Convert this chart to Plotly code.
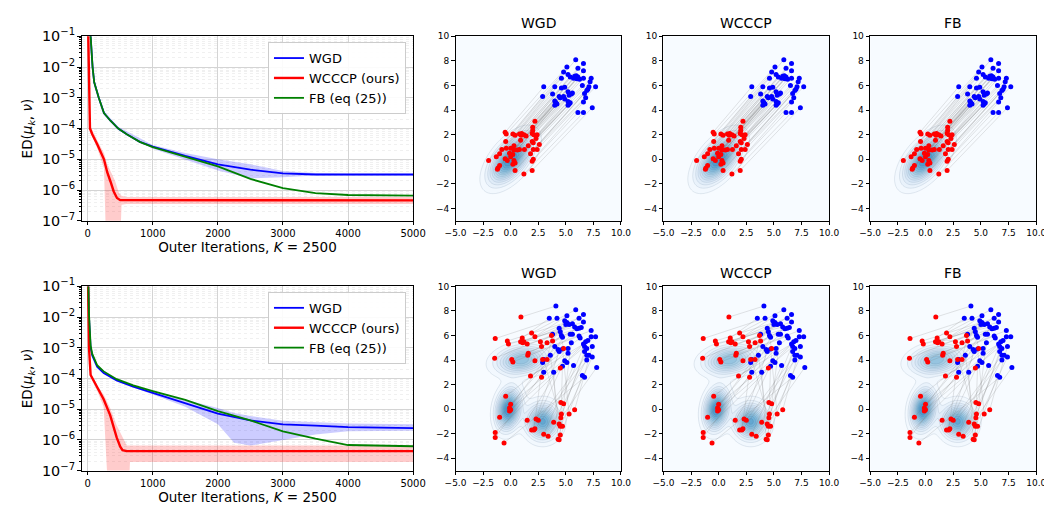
import numpy as np
import plotly.graph_objects as go
from plotly.subplots import make_subplots

W, H = 1052, 505
FONT = "DejaVu Sans"

# ---------------- convergence curves (top row) ----------------
wgd_top_it = [0, 20, 45, 75, 100, 170, 250, 350, 470, 600, 800, 1000, 1500, 2000, 2500, 3000, 3500, 4000, 5000]
wgd_top_val = [0.5, 0.2, 0.1, 1e-2, 3.2e-3, 1e-3, 3.2e-4, 1.8e-4, 1e-4, 6.5e-5, 3.7e-5, 2.6e-5, 1.3e-5, 6.9e-6, 4.6e-6, 3.5e-6, 3.2e-6, 3.2e-6, 3.2e-6]
fb_top_it = [0, 20, 45, 75, 100, 170, 250, 350, 470, 600, 800, 1000, 1500, 2000, 2500, 3000, 3500, 4000, 5000]
fb_top_val = [0.5, 0.2, 0.1, 1e-2, 3.2e-3, 1e-3, 3.2e-4, 1.8e-4, 1e-4, 6.5e-5, 3.7e-5, 2.5e-5, 1.2e-5, 5.9e-6, 2.3e-6, 1.15e-6, 7.9e-7, 6.9e-7, 6.6e-7]
wcccp_top_it = [0, 10, 20, 35, 70, 150, 250, 300, 350, 400, 450, 500, 5000]
wcccp_top_val = [1.0, 0.1, 1e-3, 1e-4, 6.5e-5, 3e-5, 1e-5, 3.8e-6, 1.9e-6, 9e-7, 5.5e-7, 4.7e-7, 4.6e-7]

wgd_top_band_it = [0, 45, 100, 250, 470, 1000, 1500, 2000, 2500, 3000, 3500, 4000, 5000]
wgd_top_band_hi = [1.0, 0.12, 3.7e-3, 3.7e-4, 1.15e-4, 2.9e-5, 1.6e-5, 1e-5, 6.9e-6, 4.2e-6, 3.6e-6, 3.4e-6, 3.4e-6]
wgd_top_band_lo = [1.0, 0.09, 2.8e-3, 2.8e-4, 8.8e-5, 2.2e-5, 1e-5, 4.3e-6, 2.4e-6, 2.6e-6, 3e-6, 3e-6, 3e-6]
wcccp_top_band_it = [0, 35, 150, 250, 300, 350, 420, 480, 520, 600, 5000]
wcccp_top_band_hi = [1.0, 1.3e-4, 4e-5, 1.6e-5, 7e-6, 4e-6, 2e-6, 8e-7, 6.5e-7, 6e-7, 6e-7]
wcccp_top_band_lo = [1.0, 8e-5, 2.2e-5, 5e-6, 1e-9, 1e-9, 1e-9, 1e-9, 3.3e-7, 3.5e-7, 3.5e-7]

# ---------------- convergence curves (bottom row) ----------------
wgd_bot_it = [0, 10, 20, 45, 70, 145, 245, 445, 700, 1000, 1500, 2000, 2500, 3000, 3500, 4000, 5000]
wgd_bot_val = [1.0, 0.1, 1e-2, 1e-3, 5.6e-4, 2.4e-4, 1.5e-4, 8.7e-5, 5.4e-5, 3.4e-5, 1.6e-5, 7.2e-6, 4.3e-6, 3.2e-6, 2.9e-6, 2.6e-6, 2.4e-6]
fb_bot_it = [0, 10, 20, 45, 70, 145, 245, 445, 700, 1000, 1500, 2000, 2500, 3000, 3500, 4000, 5000]
fb_bot_val = [1.0, 0.1, 1.2e-2, 1.2e-3, 6.3e-4, 2.7e-4, 1.7e-4, 9.5e-5, 6e-5, 3.9e-5, 2e-5, 8.6e-6, 4.3e-6, 1.9e-6, 1.1e-6, 6.8e-7, 6.2e-7]
wcccp_bot_it = [0, 10, 20, 45, 145, 245, 345, 445, 500, 535, 600, 5000]
wcccp_bot_val = [1.0, 0.1, 1e-3, 1.3e-4, 5e-5, 2.1e-5, 6.4e-6, 1.2e-6, 6e-7, 4.6e-7, 4.3e-7, 4.3e-7]

wgd_bot_band_it = [0, 45, 145, 445, 1000, 1500, 2000, 2250, 2500, 3000, 3500, 4000, 5000]
wgd_bot_band_hi = [1.0, 1.1e-3, 2.6e-4, 9.5e-5, 3.8e-5, 2e-5, 1.1e-5, 7.5e-6, 6e-6, 4.2e-6, 3.7e-6, 3.4e-6, 3.2e-6]
wgd_bot_band_lo = [1.0, 9e-4, 2.2e-4, 8e-5, 3e-5, 1.2e-5, 3.2e-6, 8e-7, 6.5e-7, 1e-6, 1.5e-6, 1.9e-6, 2e-6]
wcccp_bot_band_it = [0, 20, 45, 145, 245, 300, 345, 445, 600, 650, 5000]
wcccp_bot_band_hi = [1.0, 1.2e-3, 1.5e-4, 6e-5, 3e-5, 1.6e-5, 1.1e-5, 3e-6, 6.5e-7, 6.5e-7, 6.5e-7]
wcccp_bot_band_lo = [1.0, 8e-4, 1.1e-4, 4e-5, 1.2e-5, 1e-9, 1e-9, 1e-9, 1e-9, 1.9e-7, 1.9e-7]

# ---------------- particles (top row) ----------------
top_blue_x = [5.9, 6.6, 5.1, 6.1, 4.8, 5.2, 4.6, 5.4, 5.8, 5.95, 6.1, 5.7, 6.1, 6.25, 6.0, 6.6, 6.6, 6.5, 7.3, 7.2,
              7.1, 7.0, 6.9, 7.7, 3.0, 4.0, 4.6, 4.9, 5.2, 5.6, 5.5, 5.3, 3.8, 2.9, 4.4, 4.8, 4.5, 4.9, 4.0, 4.0,
              4.2, 4.1, 5.2, 5.3, 5.4, 5.2, 6.7, 6.8, 6.6, 7.4, 6.1, 6.6]
top_blue_y = [8.1, 7.8, 7.5, 7.4, 7.1, 6.9, 6.6, 6.7, 6.75, 6.8, 6.7, 6.6, 6.6, 6.5, 6.55, 7.2, 6.6, 6.0, 6.6, 6.3,
              5.9, 5.7, 5.6, 5.9, 5.9, 5.9, 5.8, 5.85, 5.5, 5.4, 5.3, 5.2, 5.3, 5.1, 5.1, 5.1, 5.0, 4.9, 4.75, 4.4,
              4.5, 4.6, 4.7, 4.5, 4.6, 4.4, 5.35, 5.0, 4.65, 4.2, 3.8, 3.8]
top_red_x = [2.2, 2.0, 2.0, 1.95, 2.1, 2.4, 2.3, 1.95, 2.05, 2.6, 1.6, 2.4, 2.05, 1.8, 2.05, 1.95, 1.95, 1.2, -0.5, -0.4,
             0.2, 0.4, 0.8, 1.0, 1.2, 1.4, 0.95, 0.9, -0.45, -0.8, -0.4, 0.0, 0.3, 0.6, 0.3, -1.3, -1.0, -0.5, -0.1, 0.2,
             0.0, -0.3, 0.3, 0.4, 0.2, -2.0, -1.0, -1.15, -1.2, 0.4, 0.8, 1.25]
top_red_y = [3.1, 2.6, 2.35, 2.1, 2.0, 2.0, 1.7, 1.45, 1.35, 1.2, 1.1, 0.8, 0.8, 0.45, 0.0, -0.15, -0.9, -1.2, 2.2, 2.05,
             2.05, 1.95, 2.05, 2.1, 2.0, 1.9, 1.95, 1.55, 1.45, 0.8, 0.9, 0.9, 1.1, 0.75, 0.75, 0.2, 0.45, 0.05, 0.5, 0.4,
             0.2, -0.1, -0.1, -0.3, -0.4, -0.1, -0.5, -0.7, -0.8, -0.9, 0.8, 0.8]

# ---------------- particles (bottom row) ----------------
bot_blue_x = [4.1, 5.9, 6.6, 5.1, 3.5, 4.2, 4.9, 5.1, 5.3, 5.0, 6.2, 6.6, 5.8, 6.2, 6.4, 4.4, 7.3, 5.4, 5.6, 3.8,
              4.6, 4.7, 6.2, 6.3, 6.8, 7.0, 7.3, 7.7, 5.5, 5.2, 4.0, 6.7, 6.9, 7.4, 6.7, 6.9, 7.1, 3.6, 4.4, 4.7,
              5.2, 6.9, 7.4, 2.9, 3.0, 4.9, 5.1, 5.7, 4.7, 7.8, 3.0, 3.9, 6.5, 6.7, 4.3, 5.6, 6.0, 6.6, 4.5]
bot_blue_y = [8.4, 8.1, 7.7, 7.6, 7.4, 7.4, 7.2, 7.05, 6.9, 6.9, 7.4, 7.1, 6.7, 6.6, 6.65, 6.6, 6.4, 6.1, 6.1, 6.1,
              6.0, 5.85, 5.95, 5.8, 5.5, 5.6, 5.9, 5.9, 5.4, 4.95, 5.1, 5.1, 4.95, 5.1, 4.7, 4.4, 4.4, 4.4, 4.7, 4.9,
              4.55, 4.0, 4.25, 3.8, 4.05, 3.95, 3.8, 3.55, 3.5, 3.4, 3.0, 3.0, 2.75, 2.6, 4.85, 6.95, 6.55, 5.3, 6.3]
bot_red_x = [0.93, -1.4, -0.3, -0.2, 1.05, 0.9, 1.2, 1.1, 1.5, 1.9, 2.2, 2.7, 2.8, 3.3, 3.7, 3.8, 4.8, 1.6, 1.55, 0.1,
             0.2, -1.45, 2.2, 2.9, 3.3, 4.5, 1.8, 2.8, -0.45, 0.0, 0.0, -0.1, -0.1, -1.0, -1.4, -1.4, -0.6, 1.5, 2.3, 2.5,
             1.9, 2.1, 2.2, 3.0, 3.4, 3.9, 4.4, 4.5, 4.7, 4.55, 4.55, 4.8, 4.6, 5.3, 5.8, 4.5, 4.3, 4.4]
bot_red_y = [7.5, 5.75, 5.55, 5.3, 5.8, 5.5, 5.5, 5.4, 5.3, 6.2, 5.9, 5.5, 5.1, 5.4, 6.0, 5.55, 4.95, 4.55, 4.4, 4.05,
             3.85, 4.15, 3.95, 4.05, 4.05, 3.35, 2.7, 2.6, 1.05, 0.4, -0.05, -0.15, 0.1, -0.65, -1.9, -2.3, -2.75, -0.9, -0.8, -0.9,
             -1.7, -1.7, -1.6, -2.05, -2.2, -1.07, -1.2, -1.4, -1.4, -0.7, 0.55, 0.45, -0.4, -0.4, -0.05, -2.1, -2.45, -2.5]

# ---------------- target density (Gaussian components) ----------------
top_means = [[0.0, 0.0]]
top_covs = [[[1.3, 0.75], [0.75, 1.3]]]
bot_means = [[1.0, 4.0], [-0.2, 0.0], [2.9, -1.0]]
bot_covs = [[[2.0, 0.2], [0.2, 0.5]], [[0.45, 0.12], [0.12, 1.0]], [[0.8, 0.0], [0.0, 0.75]]]

method_titles = ["WGD", "WCCCP", "FB"]
legend_names = ["WGD", "WCCCP (ours)", "FB (eq (25))"]

BLUES = ["#f7fbff", "#e3eef9", "#cfe1f2", "#b5d4e9", "#93c3df", "#6daed5", "#4b97c9"]

# ---------------- figure ----------------
fig = make_subplots(rows=2, cols=4)

col_px = [(64.3, 403.3), (446.7, 616.0), (659.5, 829.0), (871.0, 1041.0)]
row_px = [(19.0, 210.3), (278.3, 469.3)]


def axname(kind, n):
    return kind + ("" if n == 1 else str(n))


for r in range(2):
    for c in range(4):
        n = r * 4 + c + 1
        x0, x1 = col_px[c]
        t, b = row_px[r]
        fig.layout[axname("xaxis", n)].domain = [x0 / W, x1 / W]
        fig.layout[axname("yaxis", n)].domain = [1 - b / H, 1 - t / H]

rows_curves = [
    dict(wgd=(wgd_top_it, wgd_top_val), wcccp=(wcccp_top_it, wcccp_top_val), fb=(fb_top_it, fb_top_val),
         wgd_band=(wgd_top_band_it, wgd_top_band_lo, wgd_top_band_hi),
         wcccp_band=(wcccp_top_band_it, wcccp_top_band_lo, wcccp_top_band_hi)),
    dict(wgd=(wgd_bot_it, wgd_bot_val), wcccp=(wcccp_bot_it, wcccp_bot_val), fb=(fb_bot_it, fb_bot_val),
         wgd_band=(wgd_bot_band_it, wgd_bot_band_lo, wgd_bot_band_hi),
         wcccp_band=(wcccp_bot_band_it, wcccp_bot_band_lo, wcccp_bot_band_hi)),
]

for r, d in enumerate(rows_curves):
    leg = "legend" if r == 0 else "legend2"
    for key, col in [("wgd_band", "rgba(0,0,255,0.2)"), ("wcccp_band", "rgba(255,0,0,0.2)")]:
        it, lo, hi = d[key]
        fig.add_trace(go.Scatter(x=it, y=lo, mode="lines", line=dict(width=0), showlegend=False,
                                 hoverinfo="skip", legend=leg), row=r + 1, col=1)
        fig.add_trace(go.Scatter(x=it, y=hi, mode="lines", line=dict(width=0), fill="tonexty",
                                 fillcolor=col, showlegend=False, hoverinfo="skip", legend=leg), row=r + 1, col=1)
    for key, name, col, w in [("wgd", legend_names[0], "#0000ff", 1.8),
                              ("wcccp", legend_names[1], "#ff0000", 2.4),
                              ("fb", legend_names[2], "#008000", 1.8)]:
        it, v = d[key]
        fig.add_trace(go.Scatter(x=it, y=v, mode="lines", name=name, line=dict(color=col, width=w),
                                 legend=leg), row=r + 1, col=1)

# density grids
gx = np.linspace(-5, 10, 181)
gy = np.linspace(-5, 10, 181)
GX, GY = np.meshgrid(gx, gy)


def mixture(means, covs):
    z = np.zeros_like(GX)
    for m, S in zip(means, covs):
        S = np.array(S)
        inv = np.linalg.inv(S)
        dx = GX - m[0]
        dy = GY - m[1]
        q = inv[0, 0] * dx * dx + 2 * inv[0, 1] * dx * dy + inv[1, 1] * dy * dy
        z += np.exp(-0.5 * q) / (2 * np.pi * np.sqrt(np.linalg.det(S)))
    return z / len(means)


rows_particles = [
    (mixture(top_means, top_covs), top_blue_x, top_blue_y, top_red_x, top_red_y, lambda x, y: x - y),
    (mixture(bot_means, bot_covs), bot_blue_x, bot_blue_y, bot_red_x, bot_red_y, lambda x, y: -y),
]

cs = [[i / (len(BLUES) - 1), col] for i, col in enumerate(BLUES)]

for r, (Z, bx, by, rx, ry, keyf) in enumerate(rows_particles):
    zmax = float(Z.max())
    nb = min(len(bx), len(rx))
    bo = sorted(range(len(bx)), key=lambda i: keyf(bx[i], by[i]))
    ro = sorted(range(len(rx)), key=lambda i: keyf(rx[i], ry[i]))
    bo = [bo[round(k * (len(bo) - 1) / (nb - 1))] for k in range(nb)]
    ro = [ro[round(k * (len(ro) - 1) / (nb - 1))] for k in range(nb)]
    tx, ty = [], []
    for i, j in zip(bo, ro):
        tx += [bx[i], rx[j], None]
        ty += [by[i], ry[j], None]
    for c in range(3):
        fig.add_trace(go.Contour(x=gx, y=gy, z=Z, colorscale=cs, zmin=0, zmax=zmax, showscale=False,
                                 contours=dict(coloring="fill", start=zmax * 0.05, end=zmax, size=zmax * 0.07),
                                 line=dict(width=0.5, color="rgba(40,70,110,0.22)"), hoverinfo="skip"),
                      row=r + 1, col=c + 2)
        fig.add_trace(go.Scatter(x=tx, y=ty, mode="lines", line=dict(color="rgba(120,120,120,0.25)", width=0.8),
                                 showlegend=False, hoverinfo="skip"), row=r + 1, col=c + 2)
        fig.add_trace(go.Scatter(x=bx, y=by, mode="markers", marker=dict(color="#0000ff", size=5),
                                 showlegend=False), row=r + 1, col=c + 2)
        fig.add_trace(go.Scatter(x=rx, y=ry, mode="markers", marker=dict(color="#ff0000", size=5),
                                 showlegend=False), row=r + 1, col=c + 2)

# axes styling
for r in range(2):
    for c in range(4):
        n = r * 4 + c + 1
        xa = fig.layout[axname("xaxis", n)]
        ya = fig.layout[axname("yaxis", n)]
        common = dict(showline=True, linecolor="#000", linewidth=1, mirror=True, ticks="outside",
                      ticklen=3.5, tickcolor="#000", zeroline=False)
        if c == 0:
            xa.update(common, range=[-90, 5000], dtick=1000, tick0=0, showgrid=True, gridcolor="#d4d4d4",
                      gridwidth=1, tickfont=dict(size=10, family=FONT, color="#000"),
                      title=dict(text="Outer Iterations, <i>K</i> = 2500", font=dict(size=13.5, family=FONT),
                                 standoff=2))
            ya.update(common, type="log", range=[-7, -1], dtick=1, exponentformat="power", showgrid=True,
                      gridcolor="#d4d4d4", tickfont=dict(size=11.5, family=FONT, color="#000"),
                      minor=dict(showgrid=True, gridcolor="#f0f0f0", griddash="dot", gridwidth=0.5, dtick="D1",
                                 ticks="outside", ticklen=2, tickcolor="#000"),
                      title=dict(text="ED(<i>μ<sub>k</sub></i>, <i>ν</i>)", font=dict(size=13.5, family=FONT),
                                 standoff=6))
        else:
            xa.update(common, range=[-5, 10], tick0=-5, dtick=2.5, tickformat=".1f", showgrid=False,
                      tickfont=dict(size=9, family=FONT, color="#000"))
            ya.update(common, range=[-5, 10], tick0=0, dtick=2, showgrid=False,
                      tickfont=dict(size=9, family=FONT, color="#000"))

# subplot titles
annotations = []
for r in range(2):
    for c in range(3):
        x0, x1 = col_px[c + 1]
        t, _ = row_px[r]
        annotations.append(dict(text=method_titles[c], x=(x0 + x1) / 2 / W, y=1 - (t - 3) / H,
                                xref="paper", yref="paper", xanchor="center", yanchor="bottom",
                                showarrow=False, font=dict(size=14, family=FONT, color="#000")))

legend_style = dict(xanchor="right", yanchor="top", bgcolor="rgba(255,255,255,0.9)", bordercolor="#cccccc",
                    borderwidth=1, font=dict(size=13, family=FONT, color="#000"), tracegroupgap=0,
                    itemwidth=30, traceorder="normal")

fig.update_layout(
    width=W, height=H,
    margin=dict(l=0, r=0, t=0, b=0),
    paper_bgcolor="white", plot_bgcolor="white",
    font=dict(family=FONT, color="#000"),
    annotations=annotations,
    legend=dict(legend_style, x=396 / W, y=1 - 25 / H),
    legend2=dict(legend_style, x=396 / W, y=1 - 284 / H),
)

fig.write_html("out.html")
